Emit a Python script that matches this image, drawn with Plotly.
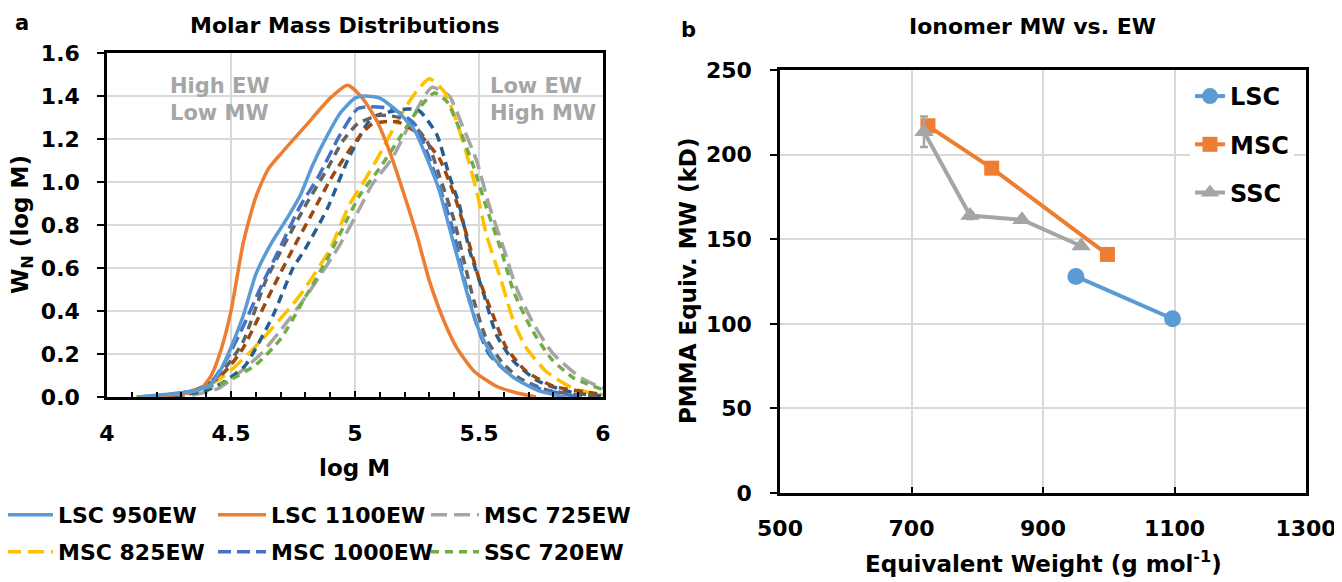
import plotly.graph_objects as go

W, H = 1342, 582
OFF = 8  # page body margin offset
FONT = "DejaVu Sans"

# ---------------- Panel a: molar mass distributions ----------------
lsc950_x = [4.13, 4.22, 4.30, 4.36, 4.42, 4.46, 4.50, 4.55, 4.60, 4.66, 4.72, 4.78, 4.83, 4.89, 4.94, 5.00, 5.04, 5.10, 5.17, 5.24, 5.29, 5.34, 5.38, 5.42, 5.46, 5.50, 5.56, 5.64, 5.74, 5.85]
lsc950_y = [0.0, 0.01, 0.02, 0.03, 0.06, 0.13, 0.23, 0.38, 0.57, 0.71, 0.82, 0.94, 1.08, 1.22, 1.32, 1.39, 1.40, 1.39, 1.33, 1.24, 1.11, 0.96, 0.79, 0.62, 0.45, 0.31, 0.18, 0.09, 0.03, 0.0]

lsc1100_x = [4.13, 4.25, 4.33, 4.38, 4.42, 4.46, 4.50, 4.55, 4.60, 4.65, 4.70, 4.80, 4.90, 4.97, 5.03, 5.09, 5.14, 5.19, 5.25, 5.30, 5.36, 5.41, 5.48, 5.57, 5.65, 5.73]
lsc1100_y = [0.0, 0.01, 0.02, 0.04, 0.10, 0.22, 0.40, 0.72, 0.93, 1.06, 1.13, 1.26, 1.39, 1.45, 1.39, 1.28, 1.14, 0.97, 0.75, 0.54, 0.35, 0.23, 0.12, 0.05, 0.02, 0.0]

msc725_x = [4.25, 4.35, 4.45, 4.52, 4.62, 4.70, 4.81, 4.94, 5.02, 5.07, 5.15, 5.22, 5.27, 5.31, 5.38, 5.43, 5.49, 5.54, 5.60, 5.65, 5.72, 5.80, 5.91, 6.0]
msc725_y = [0.0, 0.01, 0.04, 0.10, 0.20, 0.31, 0.48, 0.71, 0.88, 0.99, 1.11, 1.27, 1.38, 1.44, 1.40, 1.27, 1.10, 0.895, 0.69, 0.51, 0.34, 0.20, 0.09, 0.04]

msc825_x = [4.15, 4.30, 4.40, 4.45, 4.51, 4.62, 4.78, 4.90, 4.98, 5.03, 5.10, 5.17, 5.24, 5.30, 5.36, 5.41, 5.45, 5.49, 5.53, 5.59, 5.64, 5.69, 5.77, 5.88, 6.0]
msc825_y = [0.0, 0.02, 0.05, 0.08, 0.135, 0.26, 0.476, 0.69, 0.90, 0.99, 1.13, 1.28, 1.41, 1.48, 1.42, 1.28, 1.13, 0.96, 0.755, 0.54, 0.35, 0.23, 0.12, 0.04, 0.01]

msc1000_x = [4.13, 4.25, 4.35, 4.42, 4.48, 4.55, 4.62, 4.70, 4.78, 4.85, 4.94, 5.01, 5.06, 5.15, 5.24, 5.30, 5.36, 5.40, 5.44, 5.49, 5.54, 5.64, 5.74, 5.90]
msc1000_y = [0.0, 0.01, 0.03, 0.07, 0.17, 0.33, 0.51, 0.70, 0.89, 1.02, 1.22, 1.34, 1.35, 1.34, 1.27, 1.11, 0.91, 0.755, 0.55, 0.34, 0.20, 0.09, 0.04, 0.0]

ssc720_x = [4.12, 4.25, 4.35, 4.42, 4.48, 4.60, 4.70, 4.79, 4.89, 4.97, 5.02, 5.10, 5.18, 5.25, 5.32, 5.37, 5.42, 5.48, 5.53, 5.59, 5.64, 5.71, 5.79, 5.88, 6.0]
ssc720_y = [0.0, 0.01, 0.03, 0.05, 0.07, 0.15, 0.27, 0.445, 0.646, 0.83, 0.94, 1.065, 1.205, 1.33, 1.414, 1.375, 1.25, 1.065, 0.88, 0.68, 0.49, 0.32, 0.18, 0.09, 0.034]

ssc790_x = [4.15, 4.30, 4.40, 4.47, 4.52, 4.56, 4.67, 4.75, 4.80, 4.89, 4.97, 5.07, 5.21, 5.26, 5.33, 5.38, 5.42, 5.46, 5.52, 5.57, 5.64, 5.74, 5.88, 6.0]
ssc790_y = [0.0, 0.01, 0.03, 0.07, 0.11, 0.15, 0.38, 0.60, 0.69, 0.88, 1.10, 1.30, 1.34, 1.33, 1.22, 1.03, 0.895, 0.69, 0.476, 0.29, 0.166, 0.073, 0.02, 0.005]

ssc870_x = [4.12, 4.28, 4.38, 4.45, 4.50, 4.55, 4.67, 4.75, 4.83, 4.91, 5.01, 5.07, 5.17, 5.26, 5.34, 5.40, 5.45, 5.50, 5.56, 5.61, 5.69, 5.80, 5.95, 6.0]
ssc870_y = [0.0, 0.01, 0.04, 0.09, 0.15, 0.23, 0.51, 0.69, 0.86, 1.03, 1.20, 1.27, 1.28, 1.22, 1.11, 0.94, 0.755, 0.55, 0.37, 0.23, 0.12, 0.05, 0.02, 0.01]

ssc960_x = [4.15, 4.28, 4.38, 4.45, 4.50, 4.55, 4.64, 4.72, 4.80, 4.89, 4.95, 5.01, 5.10, 5.21, 5.29, 5.34, 5.40, 5.44, 5.48, 5.53, 5.59, 5.66, 5.77, 5.90, 6.0]
ssc960_y = [0.0, 0.01, 0.04, 0.10, 0.17, 0.26, 0.54, 0.72, 0.89, 1.065, 1.19, 1.27, 1.31, 1.29, 1.19, 1.03, 0.82, 0.63, 0.445, 0.27, 0.166, 0.09, 0.034, 0.01, 0.0]

# ---------------- Panel b: ionomer MW vs EW ----------------
lsc_ew = [950, 1097]
lsc_mw = [128, 103]
msc_ew = [725, 822, 998]
msc_mw = [217, 192, 141]
ssc_ew = [719, 789, 868, 958]
ssc_mw = [213.5, 164, 161.5, 146]
ssc_err = [9, 2, 0, 0]

C_LBLUE = "#5B9BD5"
C_ORANGE = "#ED7D31"
C_GRAY = "#A5A5A5"
C_GOLD = "#FFC000"
C_BLUE = "#4472C4"
C_GREEN = "#70AD47"
C_DBLUE = "#255E91"
C_BROWN = "#9E480E"
C_DGRAY = "#636363"

fig = go.Figure()

def curve(x, y, name, color, dash, legend, show=True, width=3.5):
    fig.add_trace(go.Scatter(
        x=x, y=y, name=name, mode="lines", xaxis="x", yaxis="y",
        line=dict(color=color, width=width, dash=dash, shape="spline", smoothing=0.6),
        legend=legend, showlegend=show))

curve(msc725_x, msc725_y, "MSC 725EW", C_GRAY, "16px,7px", "legend")
curve(msc825_x, msc825_y, "MSC 825EW", C_GOLD, "16px,7px", "legend2")
curve(ssc790_x, ssc790_y, "SSC 790EW", C_DBLUE, "9px,6px", "legend2", show=False)
curve(ssc870_x, ssc870_y, "SSC 870EW", C_BROWN, "9px,6px", "legend2", show=False)
curve(ssc960_x, ssc960_y, "SSC 960EW", C_DGRAY, "9px,6px", "legend2", show=False)
curve(msc1000_x, msc1000_y, "MSC 1000EW", C_BLUE, "13px,6px", "legend2")
curve(ssc720_x, ssc720_y, "SSC 720EW", C_GREEN, "8px,6px", "legend2")
curve(lsc1100_x, lsc1100_y, "LSC 1100EW", C_ORANGE, "solid", "legend")
curve(lsc950_x, lsc950_y, "LSC 950EW", C_LBLUE, "solid", "legend")

rank = {"LSC 950EW": 1, "LSC 1100EW": 2, "MSC 725EW": 3,
        "MSC 825EW": 4, "MSC 1000EW": 5, "SSC 720EW": 6}
for tr in fig.data:
    if tr.name in rank:
        tr.legendrank = rank[tr.name]

fig.add_trace(go.Scatter(
    x=lsc_ew, y=lsc_mw, name="LSC", mode="lines+markers", xaxis="x2", yaxis="y2",
    line=dict(color=C_LBLUE, width=4), marker=dict(symbol="circle", size=17, color=C_LBLUE),
    legend="legend3", legendgroup="a", legendrank=1))
fig.add_trace(go.Scatter(
    x=msc_ew, y=msc_mw, name="MSC", mode="lines+markers", xaxis="x2", yaxis="y2",
    line=dict(color=C_ORANGE, width=4), marker=dict(symbol="square", size=15, color=C_ORANGE),
    legend="legend3", legendgroup="b", legendrank=2))
fig.add_trace(go.Scatter(
    x=ssc_ew, y=ssc_mw, name="SSC", mode="lines+markers", xaxis="x2", yaxis="y2",
    line=dict(color=C_GRAY, width=4), marker=dict(symbol="triangle-up", size=17, color=C_GRAY),
    error_y=dict(type="data", array=ssc_err, color=C_GRAY, thickness=2.5, width=4),
    legend="legend3", legendgroup="c", legendrank=3))

def px_x(p):
    return (p - OFF) / W

def px_y(p):
    return (H - (p - OFF)) / H

tickfont = dict(family=FONT, size=22, color="black", weight="bold")
axis_common = dict(showline=True, linewidth=2.5, linecolor="black", mirror=True,
                   showgrid=True, gridcolor="#D9D9D9", gridwidth=1.5, zeroline=False,
                   automargin=False, tickfont=tickfont, tickwidth=2, tickcolor="black")
leg_font = dict(family=FONT, size=22, color="black", weight="bold")

fig.update_layout(
    width=W, height=H, margin=dict(l=0, r=0, t=0, b=0, autoexpand=False),
    plot_bgcolor="white", paper_bgcolor="white",
    xaxis=dict(domain=[px_x(107), px_x(603)], anchor="y", range=[4, 6], tick0=4, dtick=0.5,
               ticks="inside", ticklen=6, ticklabelstandoff=15,
               minor=dict(ticks="inside", dtick=0.1, ticklen=5, tickwidth=2, tickcolor="black", showgrid=False),
               **axis_common),
    yaxis=dict(domain=[px_y(397), px_y(53)], anchor="x", range=[0, 1.6], dtick=0.2, tickformat=".1f",
               ticks="outside", ticklen=7, ticklabelstandoff=13, **axis_common),
    xaxis2=dict(domain=[px_x(780), px_x(1306)], anchor="y2", range=[500, 1300], dtick=200, tick0=500,
                ticks="inside", ticklen=6, ticklabelstandoff=14, **axis_common),
    yaxis2=dict(domain=[px_y(493), px_y(70)], anchor="x2", range=[0, 250], dtick=50,
                ticks="outside", ticklen=7, ticklabelstandoff=14, **axis_common),
    legend=dict(orientation="h", x=px_x(0), y=px_y(494), xanchor="left", yanchor="top",
                entrywidth=150, entrywidthmode="pixels", itemwidth=48, bgcolor="rgba(0,0,0,0)",
                font=leg_font, tracegroupgap=0),
    legend2=dict(orientation="h", x=px_x(0), y=px_y(531), xanchor="left", yanchor="top",
                 entrywidth=150, entrywidthmode="pixels", itemwidth=48, bgcolor="rgba(0,0,0,0)",
                 font=leg_font, tracegroupgap=0),
    legend3=dict(orientation="v", x=px_x(1190), y=px_y(74), xanchor="left", yanchor="top",
                 bgcolor="white", tracegroupgap=14,
                 font=dict(family=FONT, size=24, color="black", weight="bold")),
)

ann_font = dict(family=FONT, color="black", weight="bold")
annotations = [
    dict(text="a", x=px_x(22), y=px_y(23), xanchor="center", yanchor="middle",
         font=dict(size=21, **ann_font)),
    dict(text="b", x=px_x(688), y=px_y(30), xanchor="center", yanchor="middle",
         font=dict(size=21, **ann_font)),
    dict(text="Molar Mass Distributions", x=px_x(345), y=px_y(25), xanchor="center", yanchor="middle",
         font=dict(size=22, **ann_font)),
    dict(text="Ionomer MW vs. EW", x=px_x(1032), y=px_y(27), xanchor="center", yanchor="middle",
         font=dict(size=22, **ann_font)),
    dict(text="W<sub>N</sub> (log M)", x=px_x(22), y=px_y(225), xanchor="center", yanchor="middle",
         textangle=-90, font=dict(size=23, **ann_font)),
    dict(text="log M", x=px_x(355), y=px_y(468), xanchor="center", yanchor="middle",
         font=dict(size=23, **ann_font)),
    dict(text="PMMA Equiv. MW (kD)", x=px_x(688), y=px_y(281), xanchor="center", yanchor="middle",
         textangle=-90, font=dict(size=23, **ann_font)),
    dict(text="Equivalent Weight (g mol<sup>-1</sup>)", x=px_x(1043), y=px_y(562),
         xanchor="center", yanchor="middle", font=dict(size=23, **ann_font)),
]
for a in annotations:
    a.update(xref="paper", yref="paper", showarrow=False)

gray_font = dict(family=FONT, size=21, color="#A6A6A6", weight="bold")
annotations += [
    dict(text="High EW<br>Low MW", x=4.245, y=1.385, xref="x", yref="y", xanchor="left", yanchor="middle",
         align="left", showarrow=False, font=gray_font),
    dict(text="Low EW<br>High MW", x=5.535, y=1.385, xref="x", yref="y", xanchor="left", yanchor="middle",
         align="left", showarrow=False, font=gray_font),
]
fig.update_layout(annotations=annotations)

fig.write_html("out.html")
